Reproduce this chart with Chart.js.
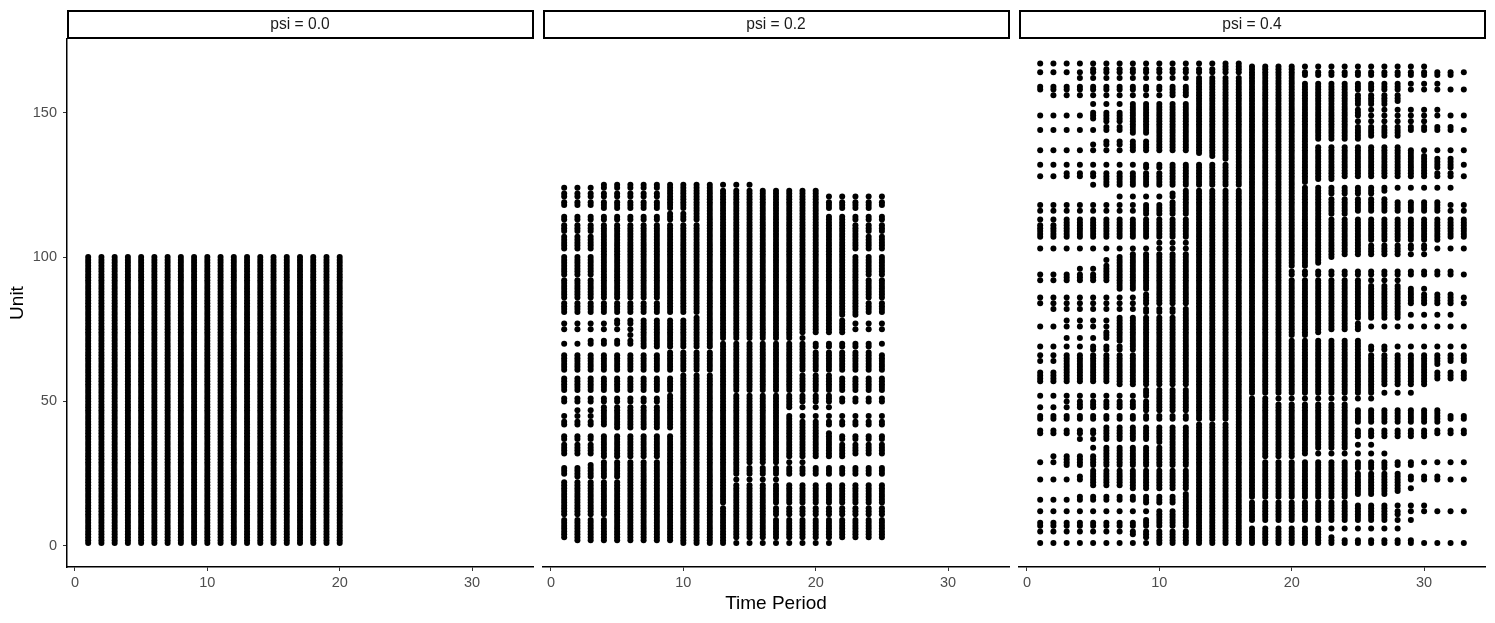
<!DOCTYPE html>
<html>
<head>
<meta charset="utf-8">
<title>Unit by time period</title>
<script src="https://cdn.jsdelivr.net/npm/chart.js@4"></script>
<style>
html, body { margin: 0; padding: 0; background: #fff; }
canvas { position: absolute; top: 0; }
</style>
</head>
<body>
<canvas id="panel-0" width="540" height="623" style="left:0"></canvas>
<canvas id="panel-1" width="475" height="623" style="left:540px"></canvas>
<canvas id="panel-2" width="480" height="623" style="left:1015px"></canvas>
<script>
var xTickValues = [0, 10, 20, 30];
var yTickValues = [0, 50, 100, 150];
var stripLabels = ["psi = 0.0", "psi = 0.2", "psi = 0.4"];

// psi = 0.0: every unit is seen in every period
var periods00 = [1,2,3,4,5,6,7,8,9,10,11,12,13,14,15,16,17,18,19,20];
var units00 = [1,2,3,4,5,6,7,8,9,10,11,12,13,14,15,16,17,18,19,20,21,22,23,24,25,
    26,27,28,29,30,31,32,33,34,35,36,37,38,39,40,41,42,43,44,45,46,47,48,49,50,
    51,52,53,54,55,56,57,58,59,60,61,62,63,64,65,66,67,68,69,70,71,72,73,74,75,
    76,77,78,79,80,81,82,83,84,85,86,87,88,89,90,91,92,93,94,95,96,97,98,99,100];

// psi = 0.2 and 0.4: [unit, first period, last period]
var rows02 = [
    [125,4,15],[124,1,12],[123,9,20],[122,1,20],[121,1,25],[120,9,20],[119,1,25],[118,1,25],[117,4,24],
    [116,11,20],[115,9,20],[114,1,25],[113,1,25],[112,12,22],[111,1,25],[110,1,25],[109,1,25],[108,4,23],
    [107,1,25],[106,1,25],[105,1,25],[104,1,25],[103,1,25],[102,4,22],[101,4,22],[100,1,25],[99,1,25],
    [98,1,25],[97,1,25],[96,1,25],[95,1,25],[94,1,25],[93,4,23],[92,1,25],[91,1,25],[90,1,25],[89,1,25],
    [88,1,25],[87,1,25],[86,1,25],[85,9,23],[84,1,25],[83,1,25],[82,1,25],[81,1,25],[80,12,23],[79,11,21],
    [78,5,22],[77,1,25],[76,7,22],[75,1,25],[74,7,22],[73,6,18],[72,7,19],[71,3,12],[70,1,25],[69,7,24],
    [68,13,19],[67,9,24],[66,1,25],[65,1,25],[64,1,25],[63,1,25],[62,1,25],[61,1,25],[60,13,18],[59,10,21],
    [58,1,25],[57,1,25],[56,1,25],[55,1,25],[54,1,25],[53,10,13],[52,9,21],[51,1,25],[50,1,25],[49,9,18],
    [48,4,21],[47,2,17],[46,4,17],[45,1,25],[44,4,18],[43,1,25],[42,1,25],[41,5,20],[40,10,20],[39,10,21],
    [38,1,25],[37,1,25],[36,4,21],[35,1,25],[34,1,25],[33,1,25],[32,1,25],[31,4,22],[30,9,17],[29,4,19],
    [28,3,14],[27,1,25],[26,1,25],[25,1,25],[24,2,13],[23,6,17],[22,1,13],[21,1,25],[20,1,25],[19,1,25],
    [18,1,25],[17,1,25],[16,1,25],[15,1,25],[14,1,12],[14,14,16],[13,1,25],[12,1,25],[11,1,25],[10,5,16],
    [9,1,25],[8,1,25],[7,1,25],[6,1,25],[5,1,25],[4,1,25],[3,1,25],[2,2,13],[1,10,21]
];
var rows04 = [
    [167,1,16],[166,15,30],[165,5,20],[164,1,33],[163,17,32],[162,4,20],[161,13,20],[160,13,31],[159,1,28],
    [158,1,33],[157,11,24],[156,2,28],[155,13,28],[154,13,28],[153,5,27],[152,8,24],[151,8,31],[150,5,25],
    [149,1,33],[148,5,24],[147,6,30],[146,8,24],[145,6,32],[144,1,33],[143,8,28],[142,10,28],[141,10,25],
    [140,6,21],[139,5,21],[138,8,28],[137,1,33],[136,13,29],[135,14,30],[134,15,32],[133,16,32],[132,1,33],
    [131,9,32],[130,11,30],[129,3,32],[128,1,33],[127,6,23],[126,6,21],[125,5,20],[124,17,32],[123,12,27],
    [122,11,26],[121,7,22],[120,12,27],[119,11,31],[118,1,33],[117,9,31],[116,1,33],[115,9,24],[114,13,22],
    [113,1,33],[112,3,33],[111,1,33],[110,1,33],[109,1,33],[108,1,33],[107,1,33],[106,13,31],[105,10,25],
    [104,13,30],[103,1,33],[102,13,28],[101,8,30],[100,7,23],[99,6,22],[98,7,22],[97,6,21],[96,4,19],
    [95,6,32],[94,1,33],[93,3,19],[92,1,28],[91,7,25],[90,7,28],[89,7,30],[88,10,29],[87,9,32],[86,1,33],
    [85,9,32],[84,1,33],[83,13,28],[82,2,28],[81,9,28],[80,12,32],[79,7,28],[78,3,24],[77,7,25],[76,1,33],
    [75,7,25],[74,6,22],[73,6,21],[72,3,19],[71,7,25],[70,8,25],[69,1,33],[68,5,27],[67,9,25],[66,1,33],
    [65,3,33],[64,1,33],[63,3,31],[62,3,30],[61,3,30],[60,1,33],[59,1,33],[58,1,33],[57,1,30],[56,7,30],
    [55,13,26],[54,9,26],[53,9,29],[52,1,16],[51,10,26],[50,3,18],[49,4,24],[48,1,24],[47,9,31],[46,13,31],
    [45,1,33],[44,1,33],[43,16,31],[42,13,24],[41,6,24],[40,1,33],[39,1,33],[38,6,30],[37,4,24],[36,10,24],
    [35,11,26],[34,5,24],[33,6,21],[32,6,27],[31,2,20],[30,3,17],[29,1,33],[28,3,29],[27,13,27],[26,5,24],
    [25,5,28],[24,4,31],[23,1,33],[22,5,28],[21,5,28],[20,8,29],[19,13,28],[18,12,27],[17,4,24],[16,1,16],
    [15,9,24],[14,12,30],[13,12,27],[12,1,33],[11,10,28],[10,10,27],[9,9,29],[8,1,16],[7,1,16],[6,13,28],
    [5,1,22],[4,8,22],[3,9,23],[2,10,29],[1,1,33]
];

var FONT = '"Liberation Sans", Arial, sans-serif';

// turns the rows into scatter points
function pointsFromRows(rows) {
    var pts = [];
    for (var i = 0; i < rows.length; i++) {
        for (var t = rows[i][1]; t <= rows[i][2]; t++) {
            pts.push({x: t, y: rows[i][0]});
        }
    }
    return pts;
}

function pointsFromGrid(periods, units) {
    var pts = [];
    for (var i = 0; i < periods.length; i++) {
        for (var j = 0; j < units.length; j++) {
            pts.push({x: periods[i], y: units[j]});
        }
    }
    return pts;
}

// facet strip above the plot area
var stripPlugin = {
    id: 'strip',
    afterDraw: function(chart, args, opts) {
        var ctx = chart.ctx;
        var a = chart.chartArea;
        ctx.save();
        ctx.strokeStyle = '#000';
        ctx.lineWidth = 2;
        ctx.strokeRect(a.left + 1, 11, a.right - a.left - 1, 27);
        ctx.fillStyle = '#1a1a1a';
        ctx.font = '15.6px ' + FONT;
        ctx.textAlign = 'center';
        ctx.textBaseline = 'middle';
        ctx.fillText(opts.label, (a.left + a.right) / 2, 25);
        ctx.restore();
    }
};

function makePanel(id, points, label, padLeft, padRight, showY, showXTitle) {
    new Chart(document.getElementById(id), {
        type: 'scatter',
        data: {
            datasets: [{
                data: points,
                backgroundColor: '#000',
                borderWidth: 0,
                pointRadius: 3,
                pointHoverRadius: 3
            }]
        },
        options: {
            responsive: false,
            animation: false,
            devicePixelRatio: 1,
            layout: {padding: {top: 39, left: padLeft, right: padRight, bottom: 0}},
            plugins: {legend: {display: false}, tooltip: {enabled: false}, strip: {label: label}},
            scales: {
                x: {
                    type: 'linear',
                    min: -0.6,
                    max: 34.6,
                    afterBuildTicks: function(s) {
                        s.ticks = xTickValues.map(function(v) { return {value: v}; });
                    },
                    afterFit: function(s) { s.height = 56; },
                    grid: {drawOnChartArea: false, tickLength: 4, tickColor: '#333', tickWidth: 1},
                    border: {color: '#000', width: 1.5},
                    ticks: {color: '#4d4d4d', padding: 3, maxRotation: 0, font: {family: FONT, size: 14.5}},
                    title: {
                        display: showXTitle,
                        text: 'Time Period',
                        color: '#000',
                        font: {family: FONT, size: 19},
                        padding: {top: 0, bottom: 8}
                    }
                },
                y: {
                    type: 'linear',
                    display: showY,
                    min: -7.3,
                    max: 175.5,
                    afterBuildTicks: function(s) {
                        s.ticks = yTickValues.map(function(v) { return {value: v}; });
                    },
                    afterFit: function(s) { s.width = showY ? 67 : 0; },
                    grid: {drawOnChartArea: false, tickLength: 4, tickColor: '#333', tickWidth: 1},
                    border: {color: '#000', width: 1.5},
                    ticks: {color: '#4d4d4d', padding: 6, font: {family: FONT, size: 14.5}},
                    title: {
                        display: true,
                        text: 'Unit',
                        color: '#000',
                        font: {family: FONT, size: 19},
                        padding: {top: 6, bottom: 0}
                    }
                }
            }
        },
        plugins: [stripPlugin]
    });
}

makePanel('panel-0', pointsFromGrid(periods00, units00), stripLabels[0], 0, 7, true, false);
makePanel('panel-1', pointsFromRows(rows02), stripLabels[1], 3, 6, false, true);
makePanel('panel-2', pointsFromRows(rows04), stripLabels[2], 4, 10, false, false);
</script>
</body>
</html>
